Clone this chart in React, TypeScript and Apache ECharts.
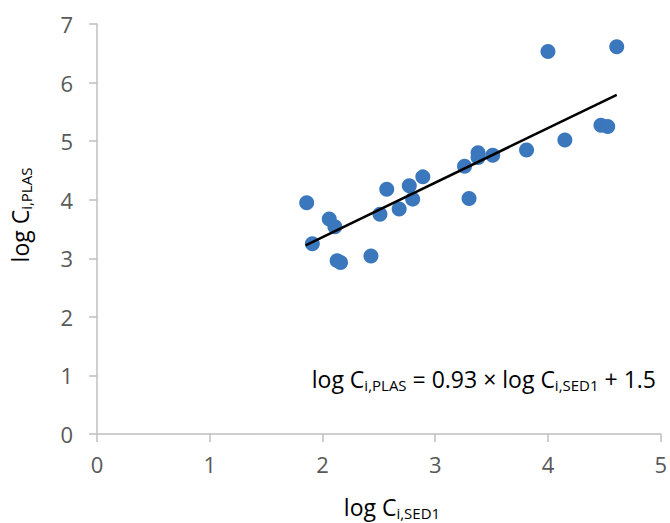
import React, { useEffect, useRef } from "react";
import * as echarts from "echarts";

const xValues = [1.86, 2.06, 2.11, 1.91, 2.13, 2.16, 2.43, 2.51, 2.57, 2.68, 2.77, 2.8, 2.89, 3.26, 3.3, 3.38, 3.38, 3.51, 3.81, 4.0, 4.15, 4.47, 4.53, 4.61];
const yValues = [3.95, 3.67, 3.54, 3.25, 2.96, 2.93, 3.04, 3.75, 4.18, 3.84, 4.24, 4.01, 4.39, 4.57, 4.02, 4.8, 4.72, 4.76, 4.85, 6.53, 5.02, 5.27, 5.25, 6.61];
const trendX = [1.85, 4.61];
const trendY = [3.22, 5.79];
const slope = "0.93";
const intercept = "1.5";
const xTicks = [0, 1, 2, 3, 4, 5];
const yTicks = [0, 1, 2, 3, 4, 5, 6, 7];

const FONT = "'Open Sans', sans-serif";
const TEXT = "#595959";
const AXIS = "#bfbfbf";
const BLUE = "#3a77bd";

export default function App() {
  const ref = useRef<HTMLDivElement>(null);
  useEffect(() => {
    if (!ref.current) return;
    const chart = echarts.init(ref.current, null, { renderer: "svg" });
    const rich = {
      m: { fontFamily: FONT, fontSize: 23, color: TEXT, lineHeight: 30, verticalAlign: "middle" },
      s: { fontFamily: FONT, fontSize: 15, color: TEXT, lineHeight: 30, verticalAlign: "bottom", padding: [0, 0, 2, 0] },
    };
    const eqRich = {
      m: { fontFamily: FONT, fontSize: 23, color: "#000", lineHeight: 30, verticalAlign: "middle" },
      s: { fontFamily: FONT, fontSize: 15, color: "#000", lineHeight: 30, verticalAlign: "bottom", padding: [0, 0, 2, 0] },
    };
    chart.setOption({
      animation: false,
      backgroundColor: "#fff",
      grid: { left: 97, right: 8, top: 24, bottom: 89, containLabel: false },
      xAxis: {
        type: "value",
        min: xTicks[0],
        max: xTicks[xTicks.length - 1],
        interval: 1,
        axisLine: { show: true, lineStyle: { color: AXIS, width: 1.5 } },
        axisTick: { show: true, length: 8, lineStyle: { color: AXIS, width: 1.5 } },
        splitLine: { show: false },
        axisLabel: { color: TEXT, fontSize: 22, fontFamily: FONT, margin: 19 },
      },
      yAxis: {
        type: "value",
        min: yTicks[0],
        max: yTicks[yTicks.length - 1],
        interval: 1,
        axisLine: { show: true, lineStyle: { color: AXIS, width: 1.5 } },
        axisTick: { show: true, length: 8, lineStyle: { color: AXIS, width: 1.5 } },
        splitLine: { show: false },
        axisLabel: { color: TEXT, fontSize: 22, fontFamily: FONT, margin: 24 },
      },
      graphic: [
        {
          type: "text",
          x: 392,
          y: 507,
          style: { text: "{m|log C}{s|i,SED1}", rich, align: "center", verticalAlign: "middle" },
        },
        {
          type: "text",
          x: 20,
          y: 215,
          rotation: Math.PI / 2,
          style: { text: "{m|log C}{s|i,PLAS}", rich, align: "center", verticalAlign: "middle" },
        },
        {
          type: "text",
          x: 656,
          y: 379,
          style: {
            text: `{m|log C}{s|i,PLAS}{m| = ${slope} × log C}{s|i,SED1}{m| + ${intercept}}`,
            rich: eqRich,
            align: "right",
            verticalAlign: "middle",
          },
        },
      ],
      series: [
        {
          type: "scatter",
          data: xValues.map((x, i) => [x, yValues[i]]),
          symbolSize: 15,
          itemStyle: { color: BLUE, opacity: 1 },
          z: 2,
        },
        {
          type: "line",
          data: trendX.map((x, i) => [x, trendY[i]]),
          symbol: "none",
          lineStyle: { color: "#000", width: 2.5 },
          z: 3,
        },
      ],
    });
    return () => chart.dispose();
  }, []);
  return <div ref={ref} style={{ width: 670, height: 523, position: "absolute", left: 0, top: 0 }} />;
}
